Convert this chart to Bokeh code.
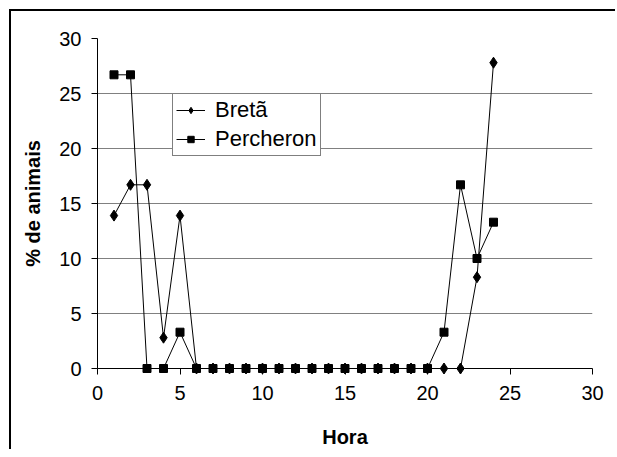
from bokeh.plotting import figure
from bokeh.models import Range1d, FixedTicker, Legend, LegendItem
from bokeh.embed import file_html
from bokeh.resources import INLINE

hours = list(range(1, 25))
breta = [13.9, 16.7, 16.7, 2.8, 13.9, 0, 0, 0, 0, 0, 0, 0, 0, 0, 0, 0, 0, 0, 0, 0, 0, 0, 8.3, 27.8]
percheron = [26.7, 26.7, 0, 0, 3.3, 0, 0, 0, 0, 0, 0, 0, 0, 0, 0, 0, 0, 0, 0, 0, 3.3, 16.7, 10.0, 13.3]
x_ticks = [0, 5, 10, 15, 20, 25, 30]
y_ticks = [0, 5, 10, 15, 20, 25, 30]
series_names = ["Bretã", "Percheron"]

FONT = "Liberation Sans"

p = figure(width=606, height=440, output_backend="svg", toolbar_location=None,
           x_range=Range1d(0, 30), y_range=Range1d(0, 30),
           min_border_left=86, min_border_right=25, min_border_top=27, min_border_bottom=83)
p.styles = {"border-left": "2px solid black", "border-top": "2px solid black",
            "margin-left": "9px", "margin-top": "9px"}
p.outline_line_color = None
p.background_fill_color = "white"
p.border_fill_color = "white"

p.xgrid.grid_line_color = None
p.ygrid.grid_line_color = "#808080"
p.ygrid.grid_line_width = 1

for ax, ticks in ((p.xaxis[0], x_ticks), (p.yaxis[0], y_ticks)):
    ax.ticker = FixedTicker(ticks=ticks)
    ax.minor_tick_line_color = None
    ax.major_tick_in = 0
    ax.major_tick_out = 6
    ax.axis_line_color = "black"
    ax.major_tick_line_color = "black"
    ax.major_label_text_font = FONT
    ax.major_label_text_font_size = "20px"
    ax.major_label_text_color = "black"
    ax.axis_label_text_font = FONT
    ax.axis_label_text_font_size = "20px"
    ax.axis_label_text_font_style = "bold"
    ax.axis_label_text_color = "black"

p.xaxis.axis_label = "Hora"
p.yaxis.axis_label = "% de animais"
p.xaxis.major_label_standoff = 11
p.xaxis.axis_label_standoff = 23
p.yaxis.major_label_standoff = 10
p.yaxis.axis_label_standoff = 12

l1 = p.line(hours, breta, line_color="black", line_width=1)
m1 = p.scatter(hours, breta, marker="diamond", size=11, fill_color="black", line_color="black")
l2 = p.line(hours, percheron, line_color="black", line_width=1)
m2 = p.scatter(hours, percheron, marker="square", size=8, fill_color="black", line_color="black")
for r in (l1, m1, l2, m2):
    r.level = "overlay"

legend = Legend(items=[LegendItem(label=series_names[0], renderers=[l1, m1]),
                       LegendItem(label=series_names[1], renderers=[l2, m2])],
                location=(75, 212))
legend.label_text_font = FONT
legend.label_text_font_size = "22px"
legend.label_text_color = "black"
legend.border_line_color = "black"
legend.border_line_width = 1
legend.background_fill_color = "white"
legend.background_fill_alpha = 1
legend.glyph_width = 29
legend.glyph_height = 16
legend.label_standoff = 10
legend.label_height = 20
legend.spacing = 3
legend.padding = 3
legend.margin = 0
p.add_layout(legend)

open("out.html", "w").write(file_html(p, INLINE))
